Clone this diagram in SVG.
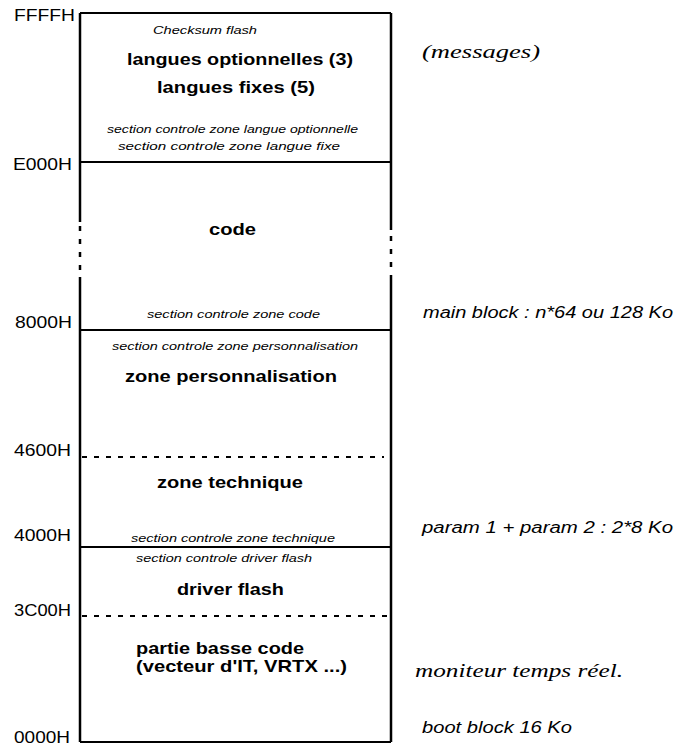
<svg xmlns="http://www.w3.org/2000/svg" width="684" height="753" viewBox="0 0 684 753">
<style>
.addr{font-family:"Liberation Sans",Arial,sans-serif;font-size:16.5px;fill:#000;text-anchor:start}
.big{font-family:"Liberation Sans",Arial,sans-serif;font-size:17px;font-weight:bold;fill:#000}
.sm{font-family:"Liberation Sans",Arial,sans-serif;font-size:10.5px;font-style:italic;fill:#000}
.note{font-family:"Liberation Sans",Arial,sans-serif;font-size:16px;font-style:italic;fill:#000}
.hand{font-family:"Liberation Serif","Times New Roman",serif;font-size:18px;font-style:italic;fill:#000}
.edge{stroke:#000;stroke-width:2.5;fill:none}
.sep{stroke:#000;stroke-width:2;fill:none}
.dash{stroke:#000;stroke-width:2;fill:none;stroke-dasharray:5 7}
</style>
<rect width="684" height="753" fill="#fff"/>
<g id="frame">
<line class="sep" x1="80" y1="13" x2="391" y2="13"/>
<line class="edge" x1="80" y1="13" x2="80" y2="222"/>
<line class="edge" x1="80" y1="226" x2="80" y2="274" stroke-dasharray="5 8"/>
<line class="edge" x1="80" y1="277" x2="80" y2="742"/>
<line class="edge" x1="391" y1="13" x2="391" y2="230" stroke-width="3"/>
<line class="edge" x1="391" y1="236" x2="391" y2="272" stroke-dasharray="5 8" stroke-width="3"/>
<line class="edge" x1="391" y1="275" x2="391" y2="742" stroke-width="3"/>
<line class="sep" x1="80" y1="742" x2="391" y2="742"/>
</g>
<g id="separators">
<line class="sep" x1="80" y1="162" x2="391" y2="162"/>
<line class="sep" x1="80" y1="330" x2="391" y2="330"/>
<line class="dash" x1="82" y1="457" x2="384" y2="457"/>
<line class="sep" x1="80" y1="547" x2="391" y2="547"/>
<line class="dash" x1="82" y1="616" x2="388" y2="616"/>
</g>
<g id="addresses">
<text class="addr" x="14" y="21" textLength="61" lengthAdjust="spacingAndGlyphs">FFFFH</text>
<text class="addr" x="13" y="170" textLength="59" lengthAdjust="spacingAndGlyphs">E000H</text>
<text class="addr" x="15" y="328" textLength="57" lengthAdjust="spacingAndGlyphs">8000H</text>
<text class="addr" x="14" y="456" textLength="57" lengthAdjust="spacingAndGlyphs">4600H</text>
<text class="addr" x="14" y="541" textLength="57" lengthAdjust="spacingAndGlyphs">4000H</text>
<text class="addr" x="14" y="616" textLength="57" lengthAdjust="spacingAndGlyphs">3C00H</text>
<text class="addr" x="14" y="743" textLength="56" lengthAdjust="spacingAndGlyphs">0000H</text>
</g>
<g id="zone-langues">
<text class="sm" x="153" y="34" textLength="104" lengthAdjust="spacingAndGlyphs">Checksum flash</text>
<text class="big" x="127" y="65" textLength="226" lengthAdjust="spacingAndGlyphs">langues optionnelles (3)</text>
<text class="big" x="157" y="93" textLength="158" lengthAdjust="spacingAndGlyphs">langues fixes (5)</text>
<text class="sm" x="107" y="133" textLength="251" lengthAdjust="spacingAndGlyphs">section controle zone langue optionnelle</text>
<text class="sm" x="118" y="150" textLength="222" lengthAdjust="spacingAndGlyphs">section controle zone langue fixe</text>
</g>
<g id="zone-code">
<text class="big" x="209" y="235" textLength="47" lengthAdjust="spacingAndGlyphs">code</text>
<text class="sm" x="147" y="318" textLength="173" lengthAdjust="spacingAndGlyphs">section controle zone code</text>
</g>
<g id="zone-personnalisation">
<text class="sm" x="112" y="350" textLength="246" lengthAdjust="spacingAndGlyphs">section controle zone personnalisation</text>
<text class="big" x="125" y="382" textLength="212" lengthAdjust="spacingAndGlyphs">zone personnalisation</text>
</g>
<g id="zone-technique">
<text class="big" x="157" y="488" textLength="146" lengthAdjust="spacingAndGlyphs">zone technique</text>
<text class="sm" x="131" y="542" textLength="204" lengthAdjust="spacingAndGlyphs">section controle zone technique</text>
</g>
<g id="zone-driver">
<text class="sm" x="136" y="562" textLength="176" lengthAdjust="spacingAndGlyphs">section controle driver flash</text>
<text class="big" x="177" y="595" textLength="107" lengthAdjust="spacingAndGlyphs">driver flash</text>
</g>
<g id="zone-basse">
<text class="big" x="136" y="654" textLength="168" lengthAdjust="spacingAndGlyphs">partie basse code</text>
<text class="big" x="136" y="672" textLength="211" lengthAdjust="spacingAndGlyphs">(vecteur d'IT, VRTX ...)</text>
</g>
<g id="notes">
<text class="hand" x="422" y="58" textLength="118" lengthAdjust="spacingAndGlyphs">(messages)</text>
<text class="note" x="423" y="318" textLength="250" lengthAdjust="spacingAndGlyphs">main block : n*64 ou 128 Ko</text>
<text class="note" x="422" y="533" textLength="251" lengthAdjust="spacingAndGlyphs">param 1 + param 2 : 2*8 Ko</text>
<text class="hand" x="415" y="677" textLength="208" lengthAdjust="spacingAndGlyphs">moniteur temps réel.</text>
<text class="note" x="422" y="733" textLength="150" lengthAdjust="spacingAndGlyphs">boot block 16 Ko</text>
</g>
</svg>
